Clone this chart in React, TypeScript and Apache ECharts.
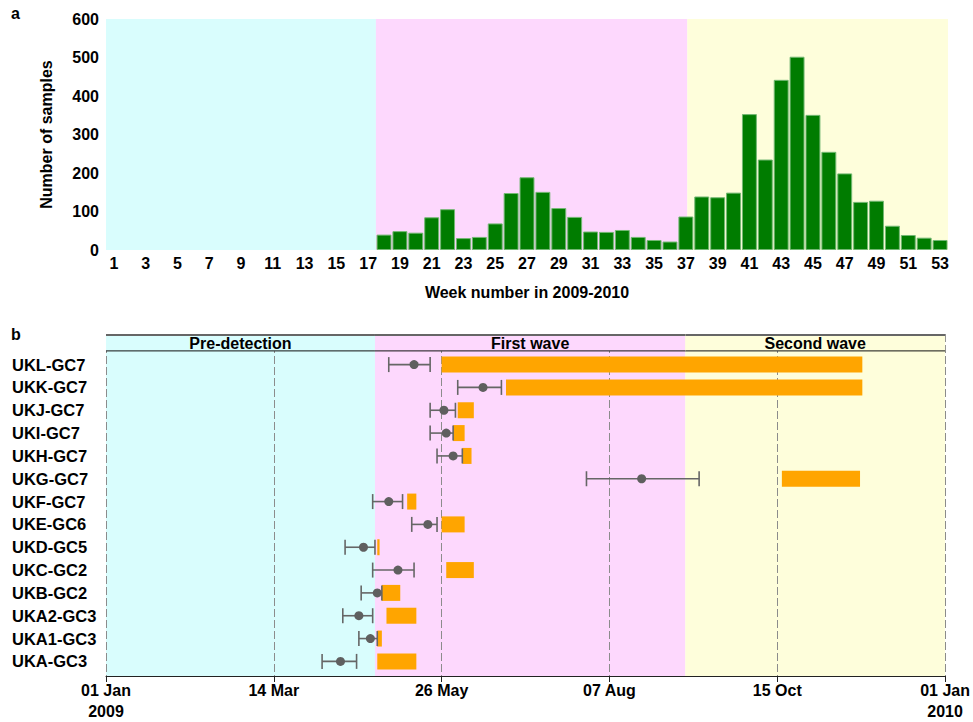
import React, { useEffect, useRef } from 'react';
import * as echarts from 'echarts';

const FONT = '"Liberation Sans", Arial, Helvetica, sans-serif';

// ---- Panel a: weekly sample counts ----
const weeks = ['1','2','3','4','5','6','7','8','9','10','11','12','13','14','15','16','17','18','19','20','21','22','23','24','25','26','27','28','29','30','31','32','33','34','35','36','37','38','39','40','41','42','43','44','45','46','47','48','49','50','51','52','53'];
const samples = [
  0, 0, 0, 0, 0, 0, 0, 0, 0, 0, 0, 0, 0, 0, 0, 0, 0,
  40, 49, 45, 85, 106, 31, 34, 69, 148, 189, 151, 109, 86, 48, 47, 52, 34, 26, 22,
  87, 139, 137, 149, 353, 235, 442, 502, 351, 255, 199, 125, 128, 63, 39, 32, 26,
];

// ---- Epidemic phases (shared background) ----
const phaseNames = ['Pre-detection', 'First wave', 'Second wave'];
const phaseStart = ['2009-01-01', '2009-04-28', '2009-09-10'];
const phaseEnd = ['2009-04-28', '2009-09-10', '2010-01-01'];
const phaseColors = ['#d9fdfd', '#fdd8fd', '#fefedb'];

// ---- Panel b: clusters (bottom to top) ----
const clusters = ['UKA-GC3', 'UKA1-GC3', 'UKA2-GC3', 'UKB-GC2', 'UKC-GC2', 'UKD-GC5', 'UKE-GC6', 'UKF-GC7', 'UKG-GC7', 'UKH-GC7', 'UKI-GC7', 'UKJ-GC7', 'UKK-GC7', 'UKL-GC7'];
const tmrcaLow = ['2009-04-05', '2009-04-21', '2009-04-14', '2009-04-22', '2009-04-27', '2009-04-15', '2009-05-14', '2009-04-27', '2009-07-29', '2009-05-25', '2009-05-22', '2009-05-22', '2009-06-03', '2009-05-04'];
const tmrcaMid = ['2009-04-13', '2009-04-26', '2009-04-21', '2009-04-29', '2009-05-08', '2009-04-23', '2009-05-21', '2009-05-04', '2009-08-22', '2009-06-01', '2009-05-29', '2009-05-28', '2009-06-14', '2009-05-15'];
const tmrcaHigh = ['2009-04-20', '2009-04-29', '2009-04-27', '2009-05-01', '2009-05-15', '2009-04-28', '2009-05-25', '2009-05-10', '2009-09-16', '2009-06-05', '2009-06-01', '2009-06-02', '2009-06-22', '2009-05-22'];
const sampleStart = ['2009-04-29', '2009-04-29', '2009-05-03', '2009-05-01', '2009-05-29', '2009-04-29', '2009-05-27', '2009-05-12', '2009-10-22', '2009-06-05', '2009-06-01', '2009-06-03', '2009-06-24', '2009-05-27'];
const sampleEnd = ['2009-05-16', '2009-05-01', '2009-05-16', '2009-05-09', '2009-06-10', '2009-04-30', '2009-06-06', '2009-05-16', '2009-11-25', '2009-06-09', '2009-06-06', '2009-06-10', '2009-11-26', '2009-11-26'];

const dateTicks = ['01 Jan\n2009', '14 Mar', '26 May', '07 Aug', '15 Oct', '01 Jan\n2010'];
const TICK_STEP = 73;
const DAYS = 365;

const dayOf = (s: string) => {
  const [y, m, d] = s.split('-').map(Number);
  return (Date.UTC(y, m - 1, d) - Date.UTC(2009, 0, 1)) / 86400000;
};

const ROW_MIN = -0.64;
const ROW_MAX = 14.34;
const HEADER_BOTTOM = 13.6;

const bold16 = { fontSize: 16, fontWeight: 'bold', color: '#000', fontFamily: FONT };

export default function App() {
  const ref = useRef<HTMLDivElement>(null);
  useEffect(() => {
    if (!ref.current) return;
    const chart = echarts.init(ref.current, undefined, { renderer: 'svg' });

    const phaseData = phaseNames.map((_, i) => [dayOf(phaseStart[i]), dayOf(phaseEnd[i]), 0]);

    const makeBg = (yLo: number, yHi: number) => (params: any, api: any) => {
      const p0 = api.coord([api.value(0), yHi]);
      const p1 = api.coord([api.value(1), yLo]);
      return {
        type: 'rect',
        shape: { x: p0[0], y: p0[1], width: p1[0] - p0[0], height: p1[1] - p0[1] },
        style: { fill: phaseColors[params.dataIndex] },
      };
    };

    const option: any = {
      animation: false,
      backgroundColor: '#ffffff',
      textStyle: { fontFamily: FONT },
      graphic: [
        { type: 'text', left: 11, top: 5, style: { text: 'a', font: `bold 16px ${FONT}`, fill: '#000' } },
        { type: 'text', left: 11, top: 326, style: { text: 'b', font: `bold 16px ${FONT}`, fill: '#000' } },
      ],
      grid: [
        { left: 106, right: 25, top: 19, bottom: 472 },
        { left: 106, right: 25, top: 334, bottom: 42 },
      ],
      xAxis: [
        {
          type: 'category', gridIndex: 0, data: weeks, boundaryGap: true,
          axisLine: { show: false }, axisTick: { show: false },
          axisLabel: { interval: 1, margin: 5, ...bold16 },
          name: 'Week number in 2009-2010', nameLocation: 'middle', nameGap: 34,
          nameTextStyle: bold16,
        },
        { type: 'value', gridIndex: 0, min: 0, max: DAYS, show: false },
        {
          type: 'value', gridIndex: 1, min: 0, max: DAYS, interval: TICK_STEP,
          axisLine: { show: true, onZero: false, lineStyle: { color: '#222', width: 1 } },
          axisTick: { show: true, length: 6, lineStyle: { color: '#222' } },
          axisLabel: {
            formatter: (v: number) => dateTicks[Math.round(v / TICK_STEP)] ?? '',
            margin: 4, lineHeight: 21, ...bold16,
          },
          splitLine: { show: true, lineStyle: { color: '#8c8c8c', width: 1, type: [8, 3] } },
        },
      ],
      yAxis: [
        {
          type: 'value', gridIndex: 0, min: 0, max: 600, interval: 100,
          axisLine: { show: false }, axisTick: { show: false }, splitLine: { show: false },
          axisLabel: { margin: 7, ...bold16 },
          name: 'Number of samples', nameLocation: 'middle', nameGap: 52, nameRotate: 90,
          nameTextStyle: bold16,
        },
        {
          type: 'value', gridIndex: 1, min: ROW_MIN, max: ROW_MAX, minInterval: 1, maxInterval: 1,
          axisLine: { show: false }, axisTick: { show: false }, splitLine: { show: false },
          axisLabel: {
            formatter: (v: number) => (Number.isInteger(v) && clusters[v] ? clusters[v] : ''),
            align: 'left', margin: 94, padding: [0, 0, 8, 0], ...bold16, fontSize: 16.5,
          },
        },
      ],
      series: [
        {
          type: 'custom', name: 'phasesTop', xAxisIndex: 1, yAxisIndex: 0, z: 1,
          renderItem: makeBg(0, 600), data: phaseData, encode: { x: [0, 1], y: 2 }, silent: true,
        },
        {
          type: 'bar', name: 'Number of samples', xAxisIndex: 0, yAxisIndex: 0, z: 2,
          data: samples.map((v) => (v > 0 ? v : null)), barCategoryGap: '6%',
          itemStyle: { color: '#007c00', borderColor: '#74b874', borderWidth: 1 },
        },
        {
          type: 'custom', name: 'phasesBottom', xAxisIndex: 2, yAxisIndex: 1, z: -1,
          renderItem: makeBg(ROW_MIN, ROW_MAX), data: phaseData, encode: { x: [0, 1], y: 2 }, silent: true,
        },
        {
          type: 'custom', name: 'header', xAxisIndex: 2, yAxisIndex: 1, z: 3, silent: true,
          data: phaseData, encode: { x: [0, 1], y: 2 },
          renderItem: (params: any, api: any) => {
            const i = params.dataIndex;
            const a = api.coord([api.value(0), ROW_MAX]);
            const b = api.coord([api.value(1), HEADER_BOTTOM]);
            return {
              type: 'group',
              children: [
                { type: 'rect', shape: { x: a[0], y: a[1], width: b[0] - a[0], height: b[1] - a[1] }, style: { fill: phaseColors[i] } },
                { type: 'line', shape: { x1: a[0], y1: b[1], x2: b[0], y2: b[1] }, style: { stroke: '#111', lineWidth: 1 } },
                { type: 'line', shape: { x1: a[0], y1: a[1] + 1, x2: b[0], y2: a[1] + 1 }, style: { stroke: '#666', lineWidth: 2 } },
                {
                  type: 'text', x: (a[0] + b[0]) / 2, y: (a[1] + b[1]) / 2 + 1,
                  style: { text: phaseNames[i], fontSize: 16, fontWeight: 'bold', fontFamily: FONT, fill: '#000', align: 'center', verticalAlign: 'middle' },
                },
              ],
            };
          },
        },
        {
          type: 'custom', name: 'Sampling period', xAxisIndex: 2, yAxisIndex: 1, z: 4,
          data: clusters.map((_, i) => [dayOf(sampleStart[i]), dayOf(sampleEnd[i]), i]),
          encode: { x: [0, 1], y: 2 },
          renderItem: (params: any, api: any) => {
            const s = api.coord([api.value(0), api.value(2)]);
            const e = api.coord([api.value(1), api.value(2)]);
            return {
              type: 'rect',
              shape: { x: s[0], y: s[1] - 8, width: e[0] - s[0], height: 16 },
              style: { fill: '#ffa500' },
            };
          },
        },
        {
          type: 'custom', name: 'TMRCA', xAxisIndex: 2, yAxisIndex: 1, z: 5,
          data: clusters.map((_, i) => [dayOf(tmrcaLow[i]), dayOf(tmrcaMid[i]), dayOf(tmrcaHigh[i]), i]),
          encode: { x: [0, 1, 2], y: 3 },
          renderItem: (params: any, api: any) => {
            const lo = api.coord([api.value(0), api.value(3)]);
            const mid = api.coord([api.value(1), api.value(3)]);
            const hi = api.coord([api.value(2), api.value(3)]);
            const st = { stroke: '#666', lineWidth: 1.6 };
            return {
              type: 'group',
              children: [
                { type: 'line', shape: { x1: lo[0], y1: lo[1], x2: hi[0], y2: hi[1] }, style: st },
                { type: 'line', shape: { x1: lo[0], y1: lo[1] - 7.5, x2: lo[0], y2: lo[1] + 7.5 }, style: st },
                { type: 'line', shape: { x1: hi[0], y1: hi[1] - 7.5, x2: hi[0], y2: hi[1] + 7.5 }, style: st },
                { type: 'circle', shape: { cx: mid[0], cy: mid[1], r: 4.5 }, style: { fill: '#5f5f5f' } },
              ],
            };
          },
        },
      ],
    };

    chart.setOption(option);
    return () => chart.dispose();
  }, []);

  return (
    <div
      ref={ref}
      style={{ position: 'fixed', left: 0, top: 0, width: 973, height: 722, background: '#fff' }}
    />
  );
}
